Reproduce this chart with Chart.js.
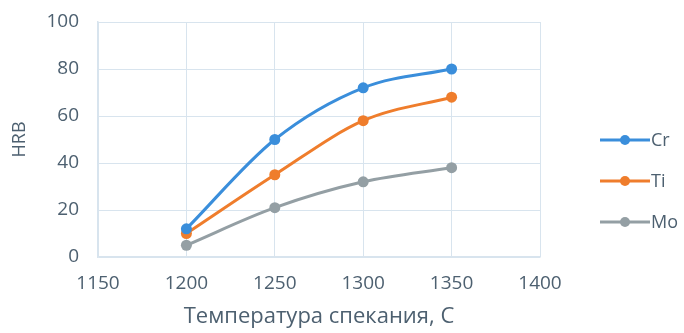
<!DOCTYPE html>
<html>
<head>
<meta charset="utf-8">
<script src="https://cdn.jsdelivr.net/npm/chart.js@4/dist/chart.umd.min.js"></script>
<style>
html,body{margin:0;padding:0;background:#fff;}
#wrap{width:684px;height:333px;position:relative;}
</style>
</head>
<body>
<div id="wrap"><canvas id="c" width="684" height="333"></canvas></div>
<script>
const temperatures = [1200, 1250, 1300, 1350];
const crValues = [12, 50, 72, 80];
const tiValues = [10, 35, 58, 68];
const moValues = [5, 21, 32, 38];
const seriesNames = ['Cr', 'Ti', 'Mo'];
const xTicks = [1150, 1200, 1250, 1300, 1350, 1400];
const yTicks = [0, 20, 40, 60, 80, 100];
const xTitle = 'Температура спекания, С';
const yTitle = 'HRB';

const colors = ['#3a8edb', '#ef7d2c', '#949fa4'];
const FONT = "'Open Sans', 'Noto Sans', sans-serif";
const TXT = '#4d6070';
const GRID = '#d8e4ee';

function pts(vals){ return temperatures.map((t,i)=>({x:t,y:vals[i]})); }
const seriesVals = [crValues, tiValues, moValues];

const legendPlugin = {
  id: 'customLegend',
  afterDraw(chart){
    const ctx = chart.ctx;
    const area = chart.chartArea;
    const x0 = area.right + 60;
    const yMid = (area.top + area.bottom) / 2;
    const gap = 41;
    chart.data.datasets.forEach((ds, i) => {
      const y = yMid + (i - 1) * gap + 41.5;
      ctx.save();
      ctx.strokeStyle = ds.borderColor;
      ctx.lineWidth = 3;
      ctx.beginPath();
      ctx.moveTo(x0, y);
      ctx.lineTo(x0 + 50, y);
      ctx.stroke();
      ctx.fillStyle = ds.borderColor;
      ctx.beginPath();
      ctx.arc(x0 + 25, y, 5, 0, Math.PI * 2);
      ctx.fill();
      ctx.fillStyle = TXT;
      ctx.font = "18px " + FONT;
      ctx.textBaseline = 'middle';
      ctx.textAlign = 'left';
      ctx.fillText(ds.label, x0 + 51, y + 1);
      ctx.restore();
    });
  }
};

new Chart(document.getElementById('c'), {
  type: 'line',
  data: {
    datasets: seriesNames.map((n, i) => ({
      label: n,
      data: pts(seriesVals[i]),
      borderColor: colors[i],
      backgroundColor: colors[i],
      borderWidth: 3,
      pointRadius: 5.5,
      pointHoverRadius: 5.5,
      pointBackgroundColor: colors[i],
      pointBorderWidth: 0,
      cubicInterpolationMode: 'monotone',
      fill: false
    }))
  },
  options: {
    responsive: false,
    animation: false,
    devicePixelRatio: 1,
    layout: { padding: { top: 22, right: 144, bottom: 3, left: 9 } },
    plugins: { legend: { display: false }, tooltip: { enabled: false } },
    scales: {
      x: {
        type: 'linear',
        min: 1150, max: 1400,
        afterBuildTicks: (s) => { s.ticks = xTicks.map(v => ({value: v})); },
        afterFit: (s) => { s.height = 73; },
        grid: { color: GRID, lineWidth: 1, drawTicks: false },
        border: { color: GRID, width: 1.5 },
        ticks: { color: TXT, font: { family: FONT, size: 19 }, padding: 15, maxRotation: 0,
                 callback: (v) => String(v) },
        title: { display: true, text: xTitle, color: TXT, font: { family: FONT, size: 22 }, padding: { top: 6, bottom: 0 } }
      },
      y: {
        min: 0, max: 100,
        afterBuildTicks: (s) => { s.ticks = yTicks.map(v => ({value: v})); },
        afterFit: (s) => { s.width = 89; s.paddingTop = 0; s.paddingBottom = 0; },
        grid: { color: GRID, lineWidth: 1, drawTicks: false },
        border: { color: GRID, width: 1.5 },
        ticks: { color: TXT, font: { family: FONT, size: 19 }, padding: 19, callback: (v) => String(v) },
        title: { display: true, text: yTitle, color: TXT, font: { family: FONT, size: 18 }, padding: { top: 0, bottom: 14 } }
      }
    }
  },
  plugins: [legendPlugin]
});
</script>
</body>
</html>
